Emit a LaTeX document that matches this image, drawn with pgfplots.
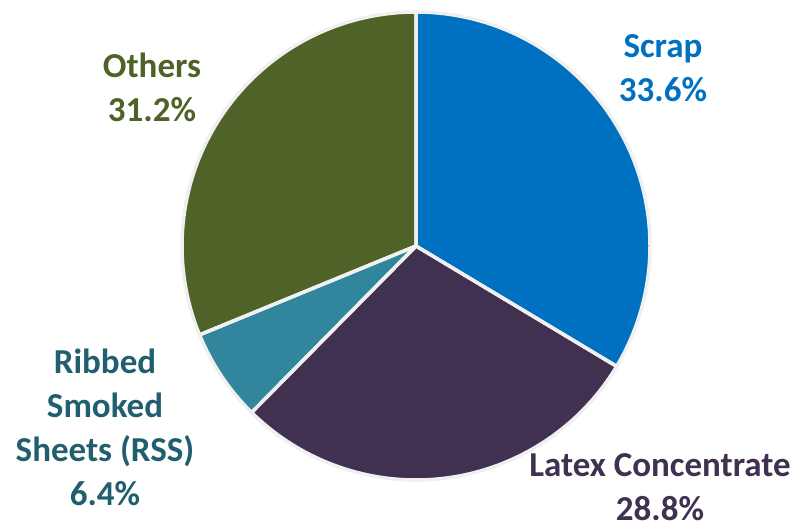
\documentclass[border=0pt]{standalone}
\usepackage{pgfplots}
\pgfplotsset{compat=1.18}
\usepackage{pgfplotstable}
\usepackage{fontspec}
\setmainfont{Carlito}
\definecolor{cScrap}{HTML}{0070C0}
\definecolor{cLatex}{HTML}{403151}
\definecolor{cRSS}{HTML}{31859C}
\definecolor{cOthers}{HTML}{4F6228}
\definecolor{tRSS}{HTML}{215F6E}
\pgfplotstableread{
label value
Scrap 33.6
Latex 28.8
RSS 6.4
Others 31.2
}\piedata
\pgfplotstablegetelem{0}{value}\of\piedata \let\vA\pgfplotsretval
\pgfplotstablegetelem{1}{value}\of\piedata \let\vB\pgfplotsretval
\pgfplotstablegetelem{2}{value}\of\piedata \let\vC\pgfplotsretval
\pgfplotstablegetelem{3}{value}\of\piedata \let\vD\pgfplotsretval
\pgfmathsetmacro\aA{90}
\pgfmathsetmacro\aB{\aA-3.6*\vA}
\pgfmathsetmacro\aC{\aB-3.6*\vB}
\pgfmathsetmacro\aD{\aC-3.6*\vC}
\pgfmathsetmacro\aE{\aD-3.6*\vD}
\def\cx{416}
\def\cy{285}
\def\R{234}
\newcommand{\slice}[2]{%
  (axis cs:\cx,\cy) -- (axis cs:{\cx+\R*cos(#1)},{\cy+\R*sin(#1)}) arc[start angle=#1, end angle=#2, radius=\R pt] -- cycle}
\begin{document}
\begin{tikzpicture}
\begin{axis}[
  scale only axis, width=798pt, height=531pt,
  xmin=0, xmax=798, ymin=0, ymax=531,
  axis lines=none, ticks=none, clip=false,
]
\path (axis cs:0,0) rectangle (axis cs:798,531);
\fill[cScrap] \slice{\aA}{\aB};
\fill[cLatex] \slice{\aB}{\aC};
\fill[cRSS] \slice{\aC}{\aD};
\fill[cOthers] \slice{\aD}{\aE};
\draw[white!94!black, line width=3.5pt, line join=round] \slice{\aA}{\aB};
\draw[white!94!black, line width=3.5pt, line join=round] \slice{\aB}{\aC};
\draw[white!94!black, line width=3.5pt, line join=round] \slice{\aC}{\aD};
\draw[white!94!black, line width=3.5pt, line join=round] \slice{\aD}{\aE};
\tikzset{lab/.style={align=center, inner sep=0pt, font=\fontsize{35}{44}\selectfont\bfseries}}
\node[lab, text=cScrap] at (axis cs:663,463) {Scrap\\33.6\%};
\node[lab, text=cOthers] at (axis cs:152,444) {Others\\31.2\%};
\node[lab, text=tRSS] at (axis cs:105,104) {Ribbed\\Smoked\\Sheets (RSS)\\6.4\%};
\node[lab, text=cLatex] at (axis cs:660,44) {Latex Concentrate\\28.8\%};
\end{axis}
\end{tikzpicture}
\end{document}
